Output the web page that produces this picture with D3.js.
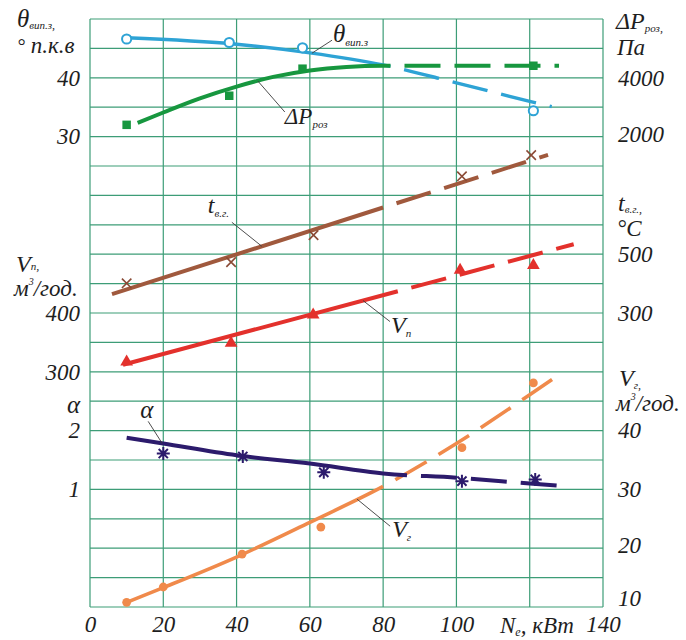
<!DOCTYPE html>
<html>
<head>
<meta charset="utf-8">
<script src="https://cdn.jsdelivr.net/npm/d3@7"></script>
<style>
  html, body { margin: 0; padding: 0; background: #fff; }
  svg text { font-family: "Liberation Serif", Tinos, "Times New Roman", "DejaVu Serif", serif; font-style: italic; fill: #1e1e1e; }
</style>
</head>
<body>
<svg id="chart" width="686" height="640"></svg>
<script>
// Effective engine power Ne, kW
const xTicks = [0, 20, 40, 60, 80, 100, 120, 140];
const xTickLabels = ["0", "20", "40", "60", "80", "100", "", "140"];

// Exhaust valve closing angle θ, ° crank angle
const thetaX = [10, 38, 58, 121];
const thetaVal = [46.6, 46.0, 45.1, 34.4];
const thetaFitX = [10, 40, 60, 80, 100, 120, 126];
const thetaFit = [46.8, 45.7, 44.25, 42.2, 39.15, 36.0, 35.1];
const thetaTicks = [40, 30];

// Pressure drop ΔP, Pa
const dpX = [10, 38, 58, 121];
const dpVal = [2400, 3390, 4310, 4410];
const dpFitX = [13, 20, 30, 40, 50, 60, 70, 80, 128];
const dpFit = [2470, 2820, 3300, 3700, 4030, 4250, 4370, 4410, 4410];
const dpTicks = [4000, 2000];

// Exhaust gas temperature t, °C
const tX = [10, 38.5, 61, 101.5, 120.4];
const tVal = [401, 473, 565, 765, 837];
const tFitX = [6, 125];
const tFit = [364, 838];
const tTicks = [500, 300];

// Air flow Vп, m³/h
const vpX = [10, 38.5, 60.9, 101, 121];
const vpVal = [317, 349, 397, 473, 481];
const vpFitX = [9, 132];
const vpFit = [312, 517];
const vpTicks = [400, 300];

// Excess air ratio α
const alphaX = [20, 41.7, 63.8, 101.5, 121.5];
const alphaVal = [1.61, 1.56, 1.29, 1.14, 1.17];
const alphaFitX = [10, 20, 40, 60, 80, 100, 120, 130.4];
const alphaFit = [1.88, 1.78, 1.58, 1.44, 1.27, 1.2, 1.1, 1.05];
const alphaTicks = [2, 1];

// Gas flow Vг, m³/h
const vgX = [10, 20, 41.5, 63, 101.5, 121];
const vgVal = [10.8, 13.4, 19.0, 23.6, 37.1, 48.1];
const vgFitX = [10, 20, 40, 60, 80, 100, 120, 128.5];
const vgFit = [10.8, 13.3, 18.5, 24.4, 30.5, 37.8, 46.1, 49.7];
const vgTicks = [40, 30, 20, 10];

const FONT = '"Liberation Serif", Tinos, "Times New Roman", "DejaVu Serif", serif';
const svg = d3.select("#chart");
const plotL = 90, plotR = 603, plotT = 19, plotB = 607;
const rows = 20;
const gridColor = "#3d9d77";

const x = d3.scaleLinear().domain([0, 140]).range([plotL, plotR]);
const rowY = d3.scaleLinear().domain([0, rows]).range([plotT, plotB]);

// One scale per quantity, all sharing the same 20-row grid
const yTheta = d3.scaleLinear().domain([-50, 50]).range([plotB, plotT]);
const yDp = d3.scaleLinear().domain([-14000, 6000]).range([plotB, plotT]);
const yT = d3.scaleLinear().domain([-700, 1300]).range([plotB, plotT]);
const yVp = d3.scaleLinear().domain([-100, 900]).range([plotB, plotT]);
const yAlpha = d3.scaleLinear().domain([-1, 9]).range([plotB, plotT]);
const yVg = d3.scaleLinear().domain([10, 110]).range([plotB, plotT]);

// Grid
const grid = svg.append("g");
grid.selectAll("line.v").data(xTicks).join("line").attr("class", "v")
  .attr("x1", d => x(d)).attr("x2", d => x(d))
  .attr("y1", plotT).attr("y2", plotB)
  .attr("stroke", gridColor).attr("stroke-width", 1.2);
grid.selectAll("line.h").data(d3.range(rows + 1)).join("line").attr("class", "h")
  .attr("x1", plotL).attr("x2", plotR)
  .attr("y1", d => rowY(d)).attr("y2", d => rowY(d))
  .attr("stroke", gridColor).attr("stroke-width", 1.2);

// Axes (labels only; the grid frames the plot)
function styleAxis(g, size) {
  g.attr("font-family", null);
  g.select(".domain").remove();
  g.selectAll(".tick line").remove();
  g.selectAll(".tick text").attr("font-size", size)
    .style("font-family", FONT)
    .style("font-style", "italic").attr("fill", "#1e1e1e");
}
const fmt = d3.format("d");
svg.append("g").attr("transform", `translate(0,${plotB})`)
  .call(d3.axisBottom(x).tickValues(xTicks).tickSize(0).tickPadding(9)
    .tickFormat((d, i) => xTickLabels[i]))
  .call(g => styleAxis(g, 23));

function leftAxis(scale, ticks) {
  svg.append("g").attr("transform", `translate(${plotL - 10},0)`)
    .call(d3.axisLeft(scale).tickValues(ticks).tickSize(0).tickPadding(0).tickFormat(fmt))
    .call(g => styleAxis(g, 23));
}
function rightAxis(scale, ticks, shift) {
  svg.append("g").attr("transform", `translate(${plotR + 15},0)`)
    .call(d3.axisRight(scale).tickValues(ticks).tickSize(0).tickPadding(0).tickFormat(fmt))
    .call(g => styleAxis(g, 23))
    .call(g => g.selectAll(".tick text").attr("y", d => (shift && shift[d]) || 0));
}
leftAxis(yTheta, thetaTicks);
leftAxis(yVp, vpTicks);
leftAxis(yAlpha, alphaTicks);
rightAxis(yDp, dpTicks, { 2000: -2 });
rightAxis(yT, tTicks);
rightAxis(yVg, vgTicks, { 20: -3, 10: -9 });

// Axis titles
function title(xp, yp, parts, anchor) {
  const t = svg.append("text").attr("x", xp).attr("y", yp).attr("text-anchor", anchor || "start");
  parts.forEach(p => {
    const s = t.append("tspan").text(p.t).attr("font-size", p.s || 23);
    if (p.dy) s.attr("dy", p.dy);
  });
  return t;
}
title(17, 27, [{ t: "θ", s: 25 }, { t: "вип.з", s: 11, dy: 2 }, { t: ",", s: 12 }]);
title(17, 53, [{ t: "°", s: 20 }, { t: " п.к.в", s: 23 }]);
title(16, 272, [{ t: "V", s: 24 }, { t: "п", s: 11, dy: -2 }, { t: ",", s: 12 }]);
title(14, 296, [{ t: "м", s: 23 }, { t: "3", s: 10, dy: -11 }, { t: "/год.", s: 23, dy: 11 }]);
title(80, 413, [{ t: "α", s: 25 }], "end");

title(616, 29, [{ t: "ΔP", s: 24 }, { t: "роз", s: 11, dy: 3 }, { t: ",", s: 12 }]);
title(617, 55, [{ t: "Па", s: 23 }]);
title(618, 211, [{ t: "t", s: 24 }, { t: "в.г.", s: 11, dy: 2 }, { t: ",", s: 12 }]);
title(617, 236, [{ t: "°C", s: 23 }]);
title(619, 386, [{ t: "V", s: 24 }, { t: "г", s: 11, dy: 3 }, { t: ",", s: 12 }]);
title(616, 411, [{ t: "м", s: 23 }, { t: "3", s: 10, dy: -11 }, { t: "/год.", s: 23, dy: 11 }]);

// x-axis name sits in place of the 120 label
title(500, 633, [{ t: "N", s: 23 }, { t: "е", s: 12, dy: 3 }, { t: ", кВт", s: 23, dy: -3 }]);

// Series
const series = [
  { name: "theta", px: thetaX, pv: thetaVal, fx: thetaFitX, fv: thetaFit, y: yTheta, color: "#2ea3d5", w: 3.4, brk: 82, marker: "ring", curve: d3.curveMonotoneX },
  { name: "dp", px: dpX, pv: dpVal, fx: dpFitX, fv: dpFit, y: yDp, color: "#17973f", w: 4, brk: 82, marker: "square", curve: d3.curveMonotoneX },
  { name: "t", px: tX, pv: tVal, fx: tFitX, fv: tFit, y: yT, color: "#a0593d", w: 4, brk: 80, marker: "cross", curve: d3.curveLinear, mcolor: "#8a4a35" },
  { name: "vp", px: vpX, pv: vpVal, fx: vpFitX, fv: vpFit, y: yVp, color: "#e3312c", w: 4, brk: 84, marker: "triangle", curve: d3.curveLinear },
  { name: "vg", px: vgX, pv: vgVal, fx: vgFitX, fv: vgFit, y: yVg, color: "#f08a4b", w: 3.6, brk: 80, marker: "dot", curve: d3.curveMonotoneX },
  { name: "alpha", px: alphaX, pv: alphaVal, fx: alphaFitX, fv: alphaFit, y: yAlpha, color: "#2c1b6c", w: 4, brk: 86.5, marker: "star", curve: d3.curveMonotoneX }
];

// Solid up to the break point, dashed beyond it
function dashAfter(node, breakPx, dash, gap) {
  const total = node.getTotalLength();
  let lo = 0, hi = total;
  for (let i = 0; i < 40; i++) {
    const mid = (lo + hi) / 2;
    if (node.getPointAtLength(mid).x < breakPx) lo = mid; else hi = mid;
  }
  const arr = [lo, gap];
  let s = lo + gap;
  while (s < total + dash) { arr.push(dash, gap); s += dash + gap; }
  node.setAttribute("stroke-dasharray", arr.map(v => v.toFixed(2)).join(" "));
}

const lineLayer = svg.append("g");
series.forEach(sr => {
  const pts = sr.fx.map((v, i) => [v, sr.fv[i]]);
  const line = d3.line().x(d => x(d[0])).y(d => sr.y(d[1])).curve(sr.curve);
  const p = lineLayer.append("path").datum(pts)
    .attr("d", line).attr("fill", "none")
    .attr("stroke", sr.color).attr("stroke-width", sr.w)
    .attr("stroke-linecap", "butt");
  dashAfter(p.node(), x(sr.brk), 36, 14);
});

// Markers
const starPath = r => {
  let d = "";
  [0, 45, 90, 135].forEach(a => {
    const c = Math.cos(a * Math.PI / 180) * r, s = Math.sin(a * Math.PI / 180) * r;
    d += `M${-c},${-s}L${c},${s}`;
  });
  return d;
};
const markLayer = svg.append("g");
series.forEach(sr => {
  const pts = sr.px.map((v, i) => [v, sr.pv[i]]);
  const g = markLayer.append("g");
  const pos = d => `translate(${x(d[0])},${sr.y(d[1])})`;
  if (sr.marker === "ring") {
    g.selectAll("circle").data(pts).join("circle")
      .attr("cx", d => x(d[0])).attr("cy", d => sr.y(d[1])).attr("r", 4.6)
      .attr("fill", "#fff").attr("stroke", sr.color).attr("stroke-width", 2);
  } else if (sr.marker === "dot") {
    g.selectAll("circle").data(pts).join("circle")
      .attr("cx", d => x(d[0])).attr("cy", d => sr.y(d[1])).attr("r", 4.4)
      .attr("fill", sr.color);
  } else if (sr.marker === "square") {
    g.selectAll("path").data(pts).join("path")
      .attr("transform", pos).attr("d", d3.symbol(d3.symbolSquare, 72)())
      .attr("fill", sr.color);
  } else if (sr.marker === "triangle") {
    g.selectAll("path").data(pts).join("path")
      .attr("transform", pos).attr("d", d3.symbol(d3.symbolTriangle, 70)())
      .attr("fill", sr.color);
  } else if (sr.marker === "cross") {
    g.selectAll("path").data(pts).join("path")
      .attr("transform", pos).attr("d", d3.symbol(d3.symbolTimes, 60)())
      .attr("fill", "none").attr("stroke", sr.mcolor).attr("stroke-width", 1.6);
  } else if (sr.marker === "star") {
    g.selectAll("path").data(pts).join("path")
      .attr("transform", pos).attr("d", starPath(6.5))
      .attr("fill", "none").attr("stroke", sr.color).attr("stroke-width", 2);
  }
});

// Curve labels with leader lines, anchored on each fitted curve
const curveLabels = [
  { s: "theta", at: 60.6, lead: [20, -13], txt: [21, -11], main: "θ", sub: "вип.з", ms: 25 },
  { s: "dp", at: 45.8, lead: [27, 31], txt: [27, 43], main: "ΔP", sub: "роз", ms: 23 },
  { s: "t", at: 46.9, lead: [-30, -24], txt: [-54, -33], main: "t", sub: "в.г.", ms: 24 },
  { s: "vp", at: 74.5, lead: [27, 21], txt: [28, 32], main: "V", sub: "п", ms: 24 },
  { s: "alpha", at: 19.7, lead: [-14, -22], txt: [-22, -25], main: "α", sub: "", ms: 25 },
  { s: "vg", at: 72.9, lead: [33, 27], txt: [35, 38], main: "V", sub: "г", ms: 24 }
];
const labLayer = svg.append("g");
curveLabels.forEach(l => {
  const sr = series.find(s => s.name === l.s);
  const interp = d3.scaleLinear().domain(sr.fx).range(sr.fv);
  const ax = x(l.at), ay = sr.y(interp(l.at));
  labLayer.append("line")
    .attr("x1", ax).attr("y1", ay).attr("x2", ax + l.lead[0]).attr("y2", ay + l.lead[1])
    .attr("stroke", "#3a3a3a").attr("stroke-width", 0.9);
  const t = labLayer.append("text").attr("x", ax + l.txt[0]).attr("y", ay + l.txt[1]);
  t.append("tspan").text(l.main).attr("font-size", l.ms);
  if (l.sub) t.append("tspan").text(l.sub).attr("font-size", 11).attr("dy", 4);
});
</script>
</body>
</html>
